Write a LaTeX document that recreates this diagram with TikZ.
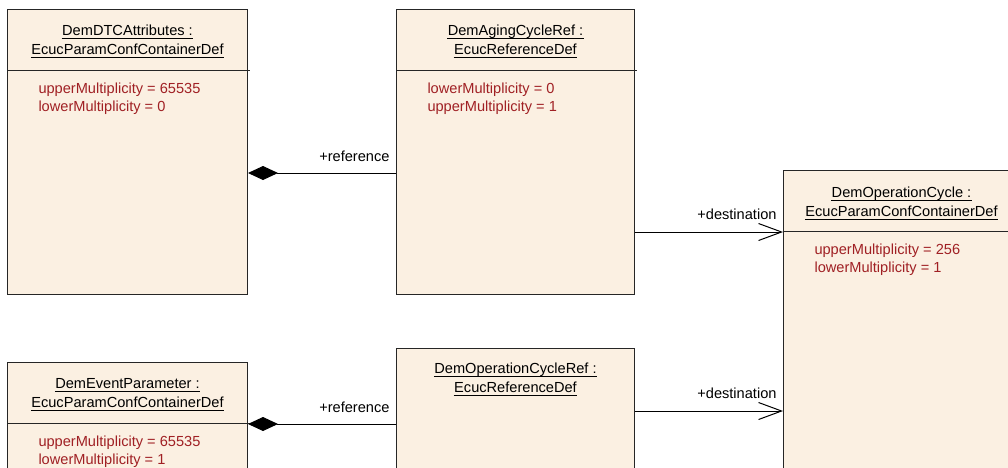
\documentclass[tikz,border=0pt]{standalone}
\usepackage{fontspec}
\setmainfont{Liberation Sans}
\usetikzlibrary{arrows.meta,calc}
\definecolor{boxfill}{RGB}{251,240,226}
\definecolor{attrred}{RGB}{160,32,36}
\begin{document}
\begin{tikzpicture}[x=1pt,y=-1pt, font=\fontsize{14.6}{17}\selectfont, line width=1pt,
  cls/.style={draw=black!85, fill=boxfill, anchor=north west, inner sep=0pt, rectangle},
  hd/.style={anchor=base, inner sep=0pt},
  attr/.style={anchor=base west, inner sep=0pt, text=attrred},
  lbl/.style={anchor=base east, inner sep=0pt},
  uline/.style={line width=0.9pt},
  sep/.style={draw=black!85},
  comp/.style={{Diamond[length=30pt,width=14pt]}-},
  dest/.style={-{Straight Barb[length=23pt,width=17pt]}}]
\useasboundingbox (0,0) rectangle (1008,467);
\clip (0,0) rectangle (1008,467);
\newcommand\hdrline[3]{%
  \node[hd] (#1) at (#2) {#3};
  \draw[uline] ($(#1.base west)+(0,3)$) -- ($(#1.base east)+(0,3)$);}
% boxes
\node[cls, minimum width=240pt, minimum height=285pt] (b1) at (7,9) {};
\node[cls, minimum width=238pt, minimum height=285pt] (b2) at (396,9) {};
\node[cls, minimum width=236pt, minimum height=320pt] (b3) at (783,170) {};
\node[cls, minimum width=240pt, minimum height=130pt] (b4) at (7,362) {};
\node[cls, minimum width=238pt, minimum height=140pt] (b5) at (396,348) {};
% separators
\draw[sep] ($(b1.north west)+(0,61)$) -- ($(b1.north east)+(2,61)$);
\draw[sep] ($(b2.north west)+(0,61)$) -- ($(b2.north east)+(2,61)$);
\draw[sep] ($(b3.north west)+(0,61)$) -- ($(b3.north east)+(2,61)$);
\draw[sep] ($(b4.north west)+(0,61)$) -- ($(b4.north east)+(2,61)$);
% headers
\hdrline{h1a}{$(b1.north)+(0,26)$}{DemDTCAttributes :}
\hdrline{h1b}{$(b1.north)+(0,45)$}{EcucParamConfContainerDef}
\hdrline{h2a}{$(b2.north)+(0,26)$}{DemAgingCycleRef :}
\hdrline{h2b}{$(b2.north)+(0,45)$}{EcucReferenceDef}
\hdrline{h3a}{$(b3.north)+(0,27)$}{DemOperationCycle :}
\hdrline{h3b}{$(b3.north)+(0,46)$}{EcucParamConfContainerDef}
\hdrline{h4a}{$(b4.north)+(0,26)$}{DemEventParameter :}
\hdrline{h4b}{$(b4.north)+(0,45)$}{EcucParamConfContainerDef}
\hdrline{h5a}{$(b5.north)+(0,25)$}{DemOperationCycleRef :}
\hdrline{h5b}{$(b5.north)+(0,44)$}{EcucReferenceDef}
% attributes
\node[attr] (a1a) at ($(b1.north west)+(31,84)$) {upperMultiplicity = 65535};
\node[attr] (a1b) at ($(b1.north west)+(31,102)$) {lowerMultiplicity = 0};
\node[attr] (a2a) at ($(b2.north west)+(31,84)$) {lowerMultiplicity = 0};
\node[attr] (a2b) at ($(b2.north west)+(31,102)$) {upperMultiplicity = 1};
\node[attr] (a3a) at ($(b3.north west)+(31,84)$) {upperMultiplicity = 256};
\node[attr] (a3b) at ($(b3.north west)+(31,102)$) {lowerMultiplicity = 1};
\node[attr] (a4a) at ($(b4.north west)+(31,84)$) {upperMultiplicity = 65535};
\node[attr] (a4b) at ($(b4.north west)+(31,102)$) {lowerMultiplicity = 1};
% connectors
\draw[comp] ($(b1.north east)+(0,164)$) -- ($(b2.north west)+(0,164)$)
  node[lbl, pos=1, xshift=-6pt, yshift=12pt] {+reference};
\draw[comp] ($(b4.north east)+(0,62)$) -- ($(b5.north west)+(0,76)$)
  node[lbl, pos=1, xshift=-6pt, yshift=12pt] {+reference};
\draw[dest] ($(b2.north east)+(0,223)$) -- ($(b3.north west)+(0,62)$)
  node[lbl, pos=1, xshift=-6pt, yshift=13pt] {+destination};
\draw[dest] ($(b5.north east)+(0,63)$) -- ($(b3.north west)+(0,241)$)
  node[lbl, pos=1, xshift=-6pt, yshift=13pt] {+destination};
\end{tikzpicture}
\end{document}
